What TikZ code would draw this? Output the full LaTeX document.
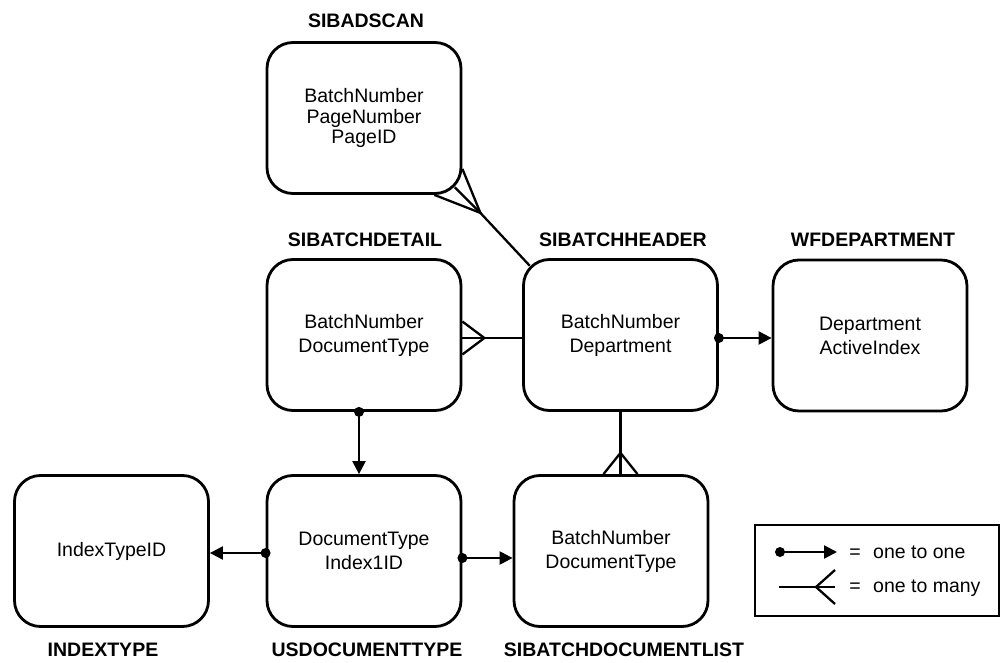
\documentclass[tikz,border=0pt]{standalone}
\usepackage{fontspec}
\setmainfont{Liberation Sans}
\usetikzlibrary{arrows.meta,calc}
\begin{document}
\begin{tikzpicture}[x=1pt,y=-1pt,
  entity/.style={draw,line width=2.8pt,rounded corners=26pt,minimum width=194pt,minimum height=151pt,inner sep=0pt,align=center,font=\fontsize{19.5}{24}\selectfont},
  title/.style={inner sep=0pt,font=\fontsize{19.5}{24}\selectfont\bfseries},
  legtext/.style={inner sep=0pt,font=\fontsize{19.5}{24}\selectfont},
  conn/.style={line width=2.3pt},
  onearrow/.style={conn,-{Triangle[length=13pt,width=13pt]}}]
\path[use as bounding box] (0,0) rectangle (1002,663);

% entities
\node[entity,font=\fontsize{19.5}{20.5}\selectfont] (scan) at (364,118) {BatchNumber\\PageNumber\\PageID};
\node[entity] (det) at (364,335) {BatchNumber\\DocumentType};
\node[entity] (hdr) at (620.5,335) {BatchNumber\\Department};
\node[entity] (wfd) at (870,335.5) {Department\\ActiveIndex};
\node[entity] (idx) at (111.5,551) {IndexTypeID};
\node[entity] (usd) at (364,551) {DocumentType\\Index1ID};
\node[entity] (dl) at (611,551) {BatchNumber\\DocumentType};

% titles
\node[title] (scanT) at (366,21) {SIBADSCAN};
\node[title] (detT) at (365,240) {SIBATCHDETAIL};
\node[title] (hdrT) at (623,240) {SIBATCHHEADER};
\node[title] (wfdT) at (873,240) {WFDEPARTMENT};
\node[title] (idxT) at (103,650) {INDEXTYPE};
\node[title] (usdT) at (367,650) {USDOCUMENTTYPE};
\node[title] (dlT) at (624,650) {SIBATCHDOCUMENTLIST};

% SIBADSCAN -- SIBATCHHEADER (many at SIBADSCAN)
\coordinate (sa) at ($(scan.south east)+(18,18)$);
\draw[conn] ($(hdr.north west)+(7.6,7.6)$) -- (sa);
\draw[conn] ($(scan.south east)+(-28,0)$) -- (sa) -- ($(scan.south east)+(0,-26)$);
\draw[conn] (sa) -- ($(scan.south east)+(-7.6,-7.6)$);

% SIBATCHDETAIL -- SIBATCHHEADER (many at SIBATCHDETAIL)
\coordinate (dh) at ($(det.east)+(22,3)$);
\draw[conn] ($(hdr.west)+(0,3)$) -- ($(det.east)+(0,3)$);
\draw[conn] ($(det.east)+(0,-13.5)$) -- (dh) -- ($(det.east)+(0,19.5)$);

% SIBATCHHEADER -- SIBATCHDOCUMENTLIST (many at list)
\coordinate (hd) at ($(hdr.south)+(0,41)$);
\coordinate (hdl) at (hdr.south |- dl.north);
\draw[conn] (hdr.south) -- (hdl);
\draw[conn] ($(hdl)+(-17,0)$) -- (hd) -- ($(hdl)+(17,0)$);

% one to one arrows
\draw[onearrow] ($(hdr.east)+(0,3)$) -- ($(wfd.west)+(0,2.5)$);
\fill ($(hdr.east)+(0,3)$) circle (5pt);
\draw[onearrow] ($(det.south)+(-5,0)$) -- ($(usd.north)+(-5,0)$);
\fill ($(det.south)+(-5,0)$) circle (5pt);
\draw[onearrow] ($(usd.west)+(0,2)$) -- ($(idx.east)+(0,2)$);
\fill ($(usd.west)+(0,2)$) circle (5pt);
\draw[onearrow] ($(usd.east)+(0,7)$) -- ($(dl.west)+(0,7)$);
\fill ($(usd.east)+(0,7)$) circle (5pt);

% legend
\node[draw,line width=2.4pt,minimum width=244pt,minimum height=91pt,inner sep=0pt] (leg) at (877,570.5) {};
\coordinate (l1a) at (780,552);
\coordinate (l1b) at (837,552);
\draw[onearrow] (l1a) -- (l1b);
\fill (l1a) circle (5pt);
\coordinate (l2a) at (779,587);
\coordinate (l2f) at (816,587);
\coordinate (l2b) at (835,587);
\coordinate (l2u) at (835,570);
\coordinate (l2d) at (835,604);
\draw[conn] (l2a) -- (l2b);
\draw[conn] (l2u) -- (l2f) -- (l2d);
\node[legtext,anchor=base] (eq1) at (855,558.3) {=};
\node[legtext,anchor=base west] (t1) at (873,558.3) {one to one};
\node[legtext,anchor=base] (eq2) at (855,592.7) {=};
\node[legtext,anchor=base west] (t2) at (873,592.7) {one to many};
\end{tikzpicture}
\end{document}
